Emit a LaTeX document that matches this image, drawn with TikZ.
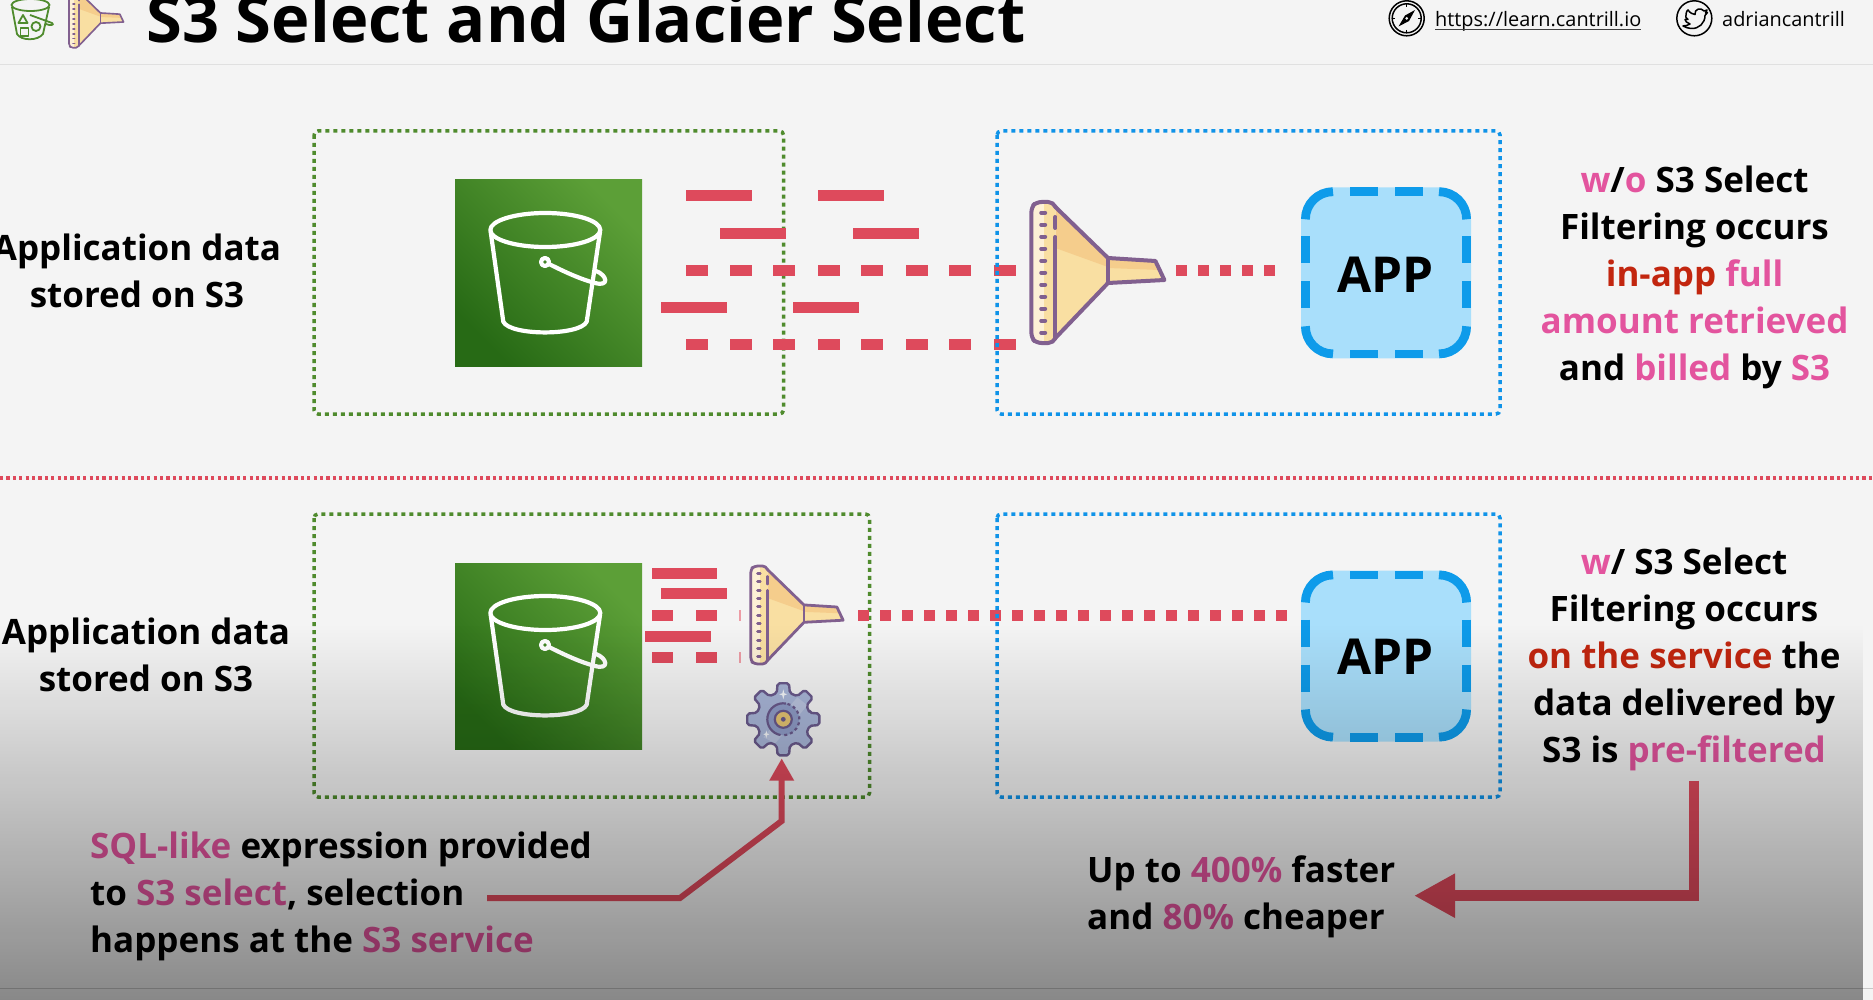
\documentclass[tikz,border=0pt]{standalone}
\usepackage{fontspec}
\setmainfont{Open Sans}
\usetikzlibrary{fadings,arrows.meta}
\definecolor{pg}{HTML}{F4F4F4}
\definecolor{dotgreen}{HTML}{4F8B2D}
\definecolor{dotblue}{HTML}{0F93E8}
\definecolor{barred}{HTML}{DE4A5C}
\definecolor{fpurple}{HTML}{81608F}
\definecolor{fcream}{HTML}{F9DFA2}
\definecolor{forange}{HTML}{F5CD8C}
\definecolor{flight}{HTML}{FDF0D6}
\definecolor{hotpink}{HTML}{E3549E}
\definecolor{deepred}{HTML}{C2260F}
\definecolor{appfill}{HTML}{A9DFFB}
\definecolor{appedge}{HTML}{0E9BEA}
\definecolor{gearfill}{HTML}{A9B6D8}
\definecolor{gearring}{HTML}{8F9CC7}
\definecolor{gearline}{HTML}{6A5A8C}
\definecolor{gearcore}{HTML}{E6C573}
\definecolor{s3dark}{HTML}{276A15}
\definecolor{s3light}{HTML}{5C9F37}
\tikzfading[name=lowdark, top color=transparent!100, bottom color=transparent!56]
\tikzset{
  dotbox/.style={line width=3.5pt, dash pattern=on 4pt off 4pt, rounded corners=4pt},
  lbl/.style={font=\fontsize{35}{47}\selectfont\bfseries, inner sep=0pt, align=center, text=black, anchor=base},
  lbll/.style={lbl, align=left, anchor=base west},
  applbl/.style={font=\fontsize{49.5}{50}\selectfont\bfseries, inner sep=0pt, text=black, anchor=base},
  toptxt/.style={inner sep=0pt,anchor=base west,font=\fontsize{19.9}{24}\selectfont},
  flow/.style={draw=barred, line width=6pt, -{Triangle[length=22.4pt,width=23.4pt]}},
  flowfat/.style={draw=barred, line width=10.7pt, -{Triangle[length=41pt,width=41.4pt]}},
  s3sq/.style={shading=axis, top color=s3light, bottom color=s3dark, shading angle=-45},
}
\newcommand{\pk}[1]{\textcolor{hotpink}{#1}}
\newcommand{\rd}[1]{\textcolor{deepred}{#1}}
\newcommand{\rbar}[3]{\fill[barred] (#1,#2-5.5) rectangle ++(#3,11);}
\newcommand{\funnelicon}[3]{%
\begin{scope}[shift={(#1,#2)},scale=#3,line join=round,line cap=round,line width={4pt*#3}]
 \fill[fcream] (24,5)--(76.6,56)--(124,59)--(133,78)--(76.6,81)--(24,136)--cycle;
 \fill[forange] (24,5)--(76.6,56)--(76.6,65)--(24,46)--cycle;
 \fill[forange] (76.6,57)--(124,59)--(128,68)--(76.6,66)--cycle;
 \fill[flight,rounded corners={#3*5pt}] (0,0) rectangle (24,141);
 \fill[fcream] (13,1) rectangle (24,140);
 \draw[fpurple,rounded corners={#3*5pt}] (24,5)--(22,0)--(5,0)--(0,5)--(0,136)--(5,141)--(22,141)--(24,136);
 \draw[fpurple] (24,5)--(76.6,56)--(124,59)--(133,78)--(76.6,81)--(24,136);
 \draw[fpurple] (76.6,56)--(76.6,81);
 \draw[fpurple] (24,15)--(24,26) (24,35)--(24,136);
 \foreach \k in {0,...,10} \draw[fpurple] (9.8,{10.7+12*\k})--(13.8,{10.7+12*\k});
\end{scope}}
\newcommand{\bucketicon}[2]{%
\begin{scope}[shift={(#1,#2)},draw=white,line width=4.2pt,line join=round,line cap=round]
 \draw (90.3,50) ellipse [x radius=55, y radius=17];
 \draw (35.7,52) -- (48.3,141.7) .. controls (55,156) and (125,156) .. (131.7,141.7) -- (145,52);
 \draw (90,82) circle [radius=4];
 \draw (94,84) .. controls (110,92) and (125,99) .. (140,103) .. controls (155,107) and (152,95) .. (141,91);
\end{scope}}
\newcommand{\appicon}[2]{%
\begin{scope}[shift={(#1,#2)}]
 \fill[appfill,rounded corners=33pt] (0,0) rectangle (170,171);
 \begin{scope}[draw=appedge,line width=8.8pt]
  \draw (4.4,32) .. controls (4.4,16.7) and (16.7,4.4) .. (32,4.4);
  \draw (138,4.4) .. controls (153.3,4.4) and (165.6,16.7) .. (165.6,32);
  \draw (4.4,139) .. controls (4.4,154.3) and (16.7,166.6) .. (32,166.6);
  \draw (138,166.6) .. controls (153.3,166.6) and (165.6,154.3) .. (165.6,139);
  \foreach \p in {49,94}{
   \draw (\p,4.4) -- ++(27.7,0);
   \draw (\p,166.6) -- ++(27.7,0);
   \draw (4.4,\p) -- ++(0,27);
   \draw (165.6,\p) -- ++(0,27);
  }
 \end{scope}
\end{scope}}
\begin{document}
\begin{tikzpicture}[x=1pt,y=-1pt]
\useasboundingbox (0,0) rectangle (1873,1000);
\fill[pg] (0,0) rectangle (1873,1000);
% header
\draw[color=black!12,line width=1.5pt] (0,64.5) -- (1873,64.5);
\draw[color=black!22,line width=1pt] (0,988) -- (1873,988);
\begin{scope}[draw=dotgreen,line width=1.8pt,line join=round]
 \draw (12,7) -- (17,34) .. controls (21,41) and (38,41) .. (43,34) -- (49,7);
 \draw (30.5,5) ellipse [x radius=19, y radius=6];
 \draw (30,15) -- (52,23) .. controls (55,25) and (50,26) .. (46,24);
 \draw (23,15) -- (27.5,23) -- (18.5,23) -- cycle;
 \draw (36,26.5) circle [radius=4.5];
 \draw (20.5,28) rectangle (28.5,36);
\end{scope}
\funnelicon{69}{-10}{0.41}
\node[inner sep=0pt,anchor=base west,font=\fontsize{65}{70}\selectfont\bfseries] (title) at (146,43) {S3 Select and Glacier Select};
% compass
\coordinate (cmp) at (1406.7,18.3);
\draw[line width=1.5pt] (cmp) circle [radius=17.5];
\draw[line width=1.5pt] (cmp) circle [radius=14.5];
\fill (1398.5,26.5) -- (1405,15.5) -- (1415,10) -- (1409,21) -- cycle;
\fill[pg] (cmp) circle [radius=1.5];
\foreach \a in {0,90,180,270} \draw[line width=1pt] (cmp) ++(\a:11.5) -- ++(\a:3);
\node[toptxt] (site) at (1435,26.5) {https://learn.cantrill.io};
\draw[line width=1.3pt,color=black!75] (1435,29.5) -- (1641,29.5);
\coordinate (twt) at (1694.3,18.3);
\draw[line width=1.5pt] (twt) circle [radius=17.5];
\draw[line width=1.5pt,line join=round] (1686,15) .. controls (1686,11) and (1688,10) .. (1688,10) .. controls (1690,13) and (1693,14.5) .. (1695,14.5) .. controls (1694,9) and (1701,7) .. (1704,11) -- (1707,10) -- (1705.5,13) -- (1707.5,12.5) -- (1705,15.5) .. controls (1705,23) and (1699,29) .. (1691,28.5) .. controls (1688,28.5) and (1685,27) .. (1683,26) .. controls (1686,26) and (1688,25) .. (1690,24) .. controls (1687,23) and (1685,21) .. (1685,19.5) .. controls (1686,19.5) and (1687,19.5) .. (1688,19.5) .. controls (1686,18) and (1685,16.5) .. (1686,15) -- cycle;
\node[toptxt] (tw) at (1722,26.5) {adriancantrill};
% green boxes and divider
\draw[dotbox,draw=dotgreen] (314,131) rectangle (783.5,414);
\draw[dotbox,draw=dotgreen] (314,514) rectangle (869.5,797);
\draw[draw=barred,line width=3.5pt,dash pattern=on 3.2pt off 3.2pt] (0,478) -- (1873,478);
% S3 squares
\shade[s3sq] (455,180) rectangle ++(187,186);
\shade[s3sq] (455,563) rectangle ++(187,186);
\bucketicon{455}{180}
\bucketicon{455}{563}
% upper bars
\rbar{685.5}{195.7}{66}\rbar{817.6}{195.7}{66}
\rbar{720.4}{233.3}{66}\rbar{852.5}{233.3}{66}
\rbar{661}{307.3}{66}\rbar{792.8}{307.3}{66}
\foreach \yy in {270.3,344.3}\foreach \xx in {685.5,729.5,773.4,817.6,861.4,905.6,949.4,993.5}{\rbar{\xx}{\yy}{22}}
\foreach \xx in {1175.8,1198,1220,1241.9,1263.7}{\rbar{\xx}{270.3}{11}}
% lower bars
\rbar{651.7}{573}{65.6}
\rbar{661}{593.7}{66}
\rbar{645}{636.3}{66}
\foreach \yy in {615,657.3}{\rbar{651.7}{\yy}{21.7}\rbar{695.7}{\yy}{21.7}\fill[barred!55] (739,\yy-5.5) rectangle ++(2,11);}
\foreach \k in {0,...,19}{\rbar{858+22*\k}{615}{11}}
% blue boxes
\draw[dotbox,draw=dotblue] (997,131) rectangle (1500,414);
\draw[dotbox,draw=dotblue] (997,514) rectangle (1500,797);
% funnels
\funnelicon{1031.4}{202}{1}
\funnelicon{750.7}{566}{0.695}
% gear
\coordinate (gear) at (783.3,719.3);
\begin{scope}[shift={(gear)}]
 \draw[fill=gearfill,draw=gearline,line width=2.4pt,line join=round,rounded corners=2pt]
  (-14:27) \foreach \a in {0,45,...,315}{ -- (\a-14:27) -- (\a-9:36.5) -- (\a+9:36.5) -- (\a+14:27) } -- cycle;
 \fill[white,opacity=.2] (-20,18) -- (14,-22) -- (24,-14) -- (-8,24) -- cycle;
 \fill[gearring] (0,0) circle [radius=16];
 \draw[gearline,line width=2.2pt] (100:16) arc[start angle=100,end angle=280,radius=16];
 \draw[gearline,line width=2.2pt,dash pattern=on 3pt off 3pt] (285:16) arc[start angle=285,end angle=450,radius=16];
 \draw[fill=gearcore,draw=gearline,line width=2.2pt] (0,0) circle [radius=8.5];
 \fill[gearline] (0,0) circle [radius=2.4];
 \fill[white!90!gearfill] (0,-30) -- (1,-26) -- (4,-25) -- (1,-24) -- (0,-20) -- (-1,-24) -- (-4,-25) -- (-1,-26) -- cycle;
 \fill[white!90!gearfill] (-17,11) -- (-16.3,14) -- (-14,15) -- (-16.3,16) -- (-17,19) -- (-17.7,16) -- (-20,15) -- (-17.7,14) -- cycle;
\end{scope}
% APPs
\appicon{1301}{187.3}
\appicon{1301}{570.5}
\node[applbl] (app1) at (1385.5,292.7) {APP};
\node[applbl] (app2) at (1385.5,674.5) {APP};
% texts
\node[lbl] (ta) at (137,307.6) {Application data\\stored on S3};
\node[lbl] (tc) at (146,691.2) {Application data\\stored on S3};
\node[lbl] (tb) at (1694.5,380.5) {\pk{w}/\pk{o} S3 Select\\Filtering occurs\\\rd{in-app} \pk{full}\\\pk{amount retrieved}\\and \pk{billed} by \pk{S3}};
\node[lbl] (td) at (1684,762) {\pk{w}/ S3 Select\\Filtering occurs\\\rd{on the service} the\\data delivered by\\S3 is \pk{pre-filtered}};
\node[lbll] (te) at (90,952.3) {\pk{SQL-like} expression provided\\to \pk{S3 select}, selection\\happens at the \pk{S3 service}};
\node[lbll] (tf) at (1087,929.6) {Up to \pk{400\%} faster\\and \pk{80\%} cheaper};
% connectors
\coordinate (e0) at (487,898);
\coordinate (e1) at (680,898);
\coordinate (e2) at (781.7,821);
\coordinate (gearin) at (781.7,758.3);
\draw[flow] (e0) -- (e1) -- (e2) -- (gearin);
\coordinate (d0) at (1694,780.7);
\coordinate (d1) at (1694,895.7);
\coordinate (d2) at (1414,895.7);
\draw[flowfat] (d0) -- (d1) -- (d2);
% lower darkening
\fill[black,path fading=lowdark] (0,625) rectangle (1873,1000);
\end{tikzpicture}
\end{document}
